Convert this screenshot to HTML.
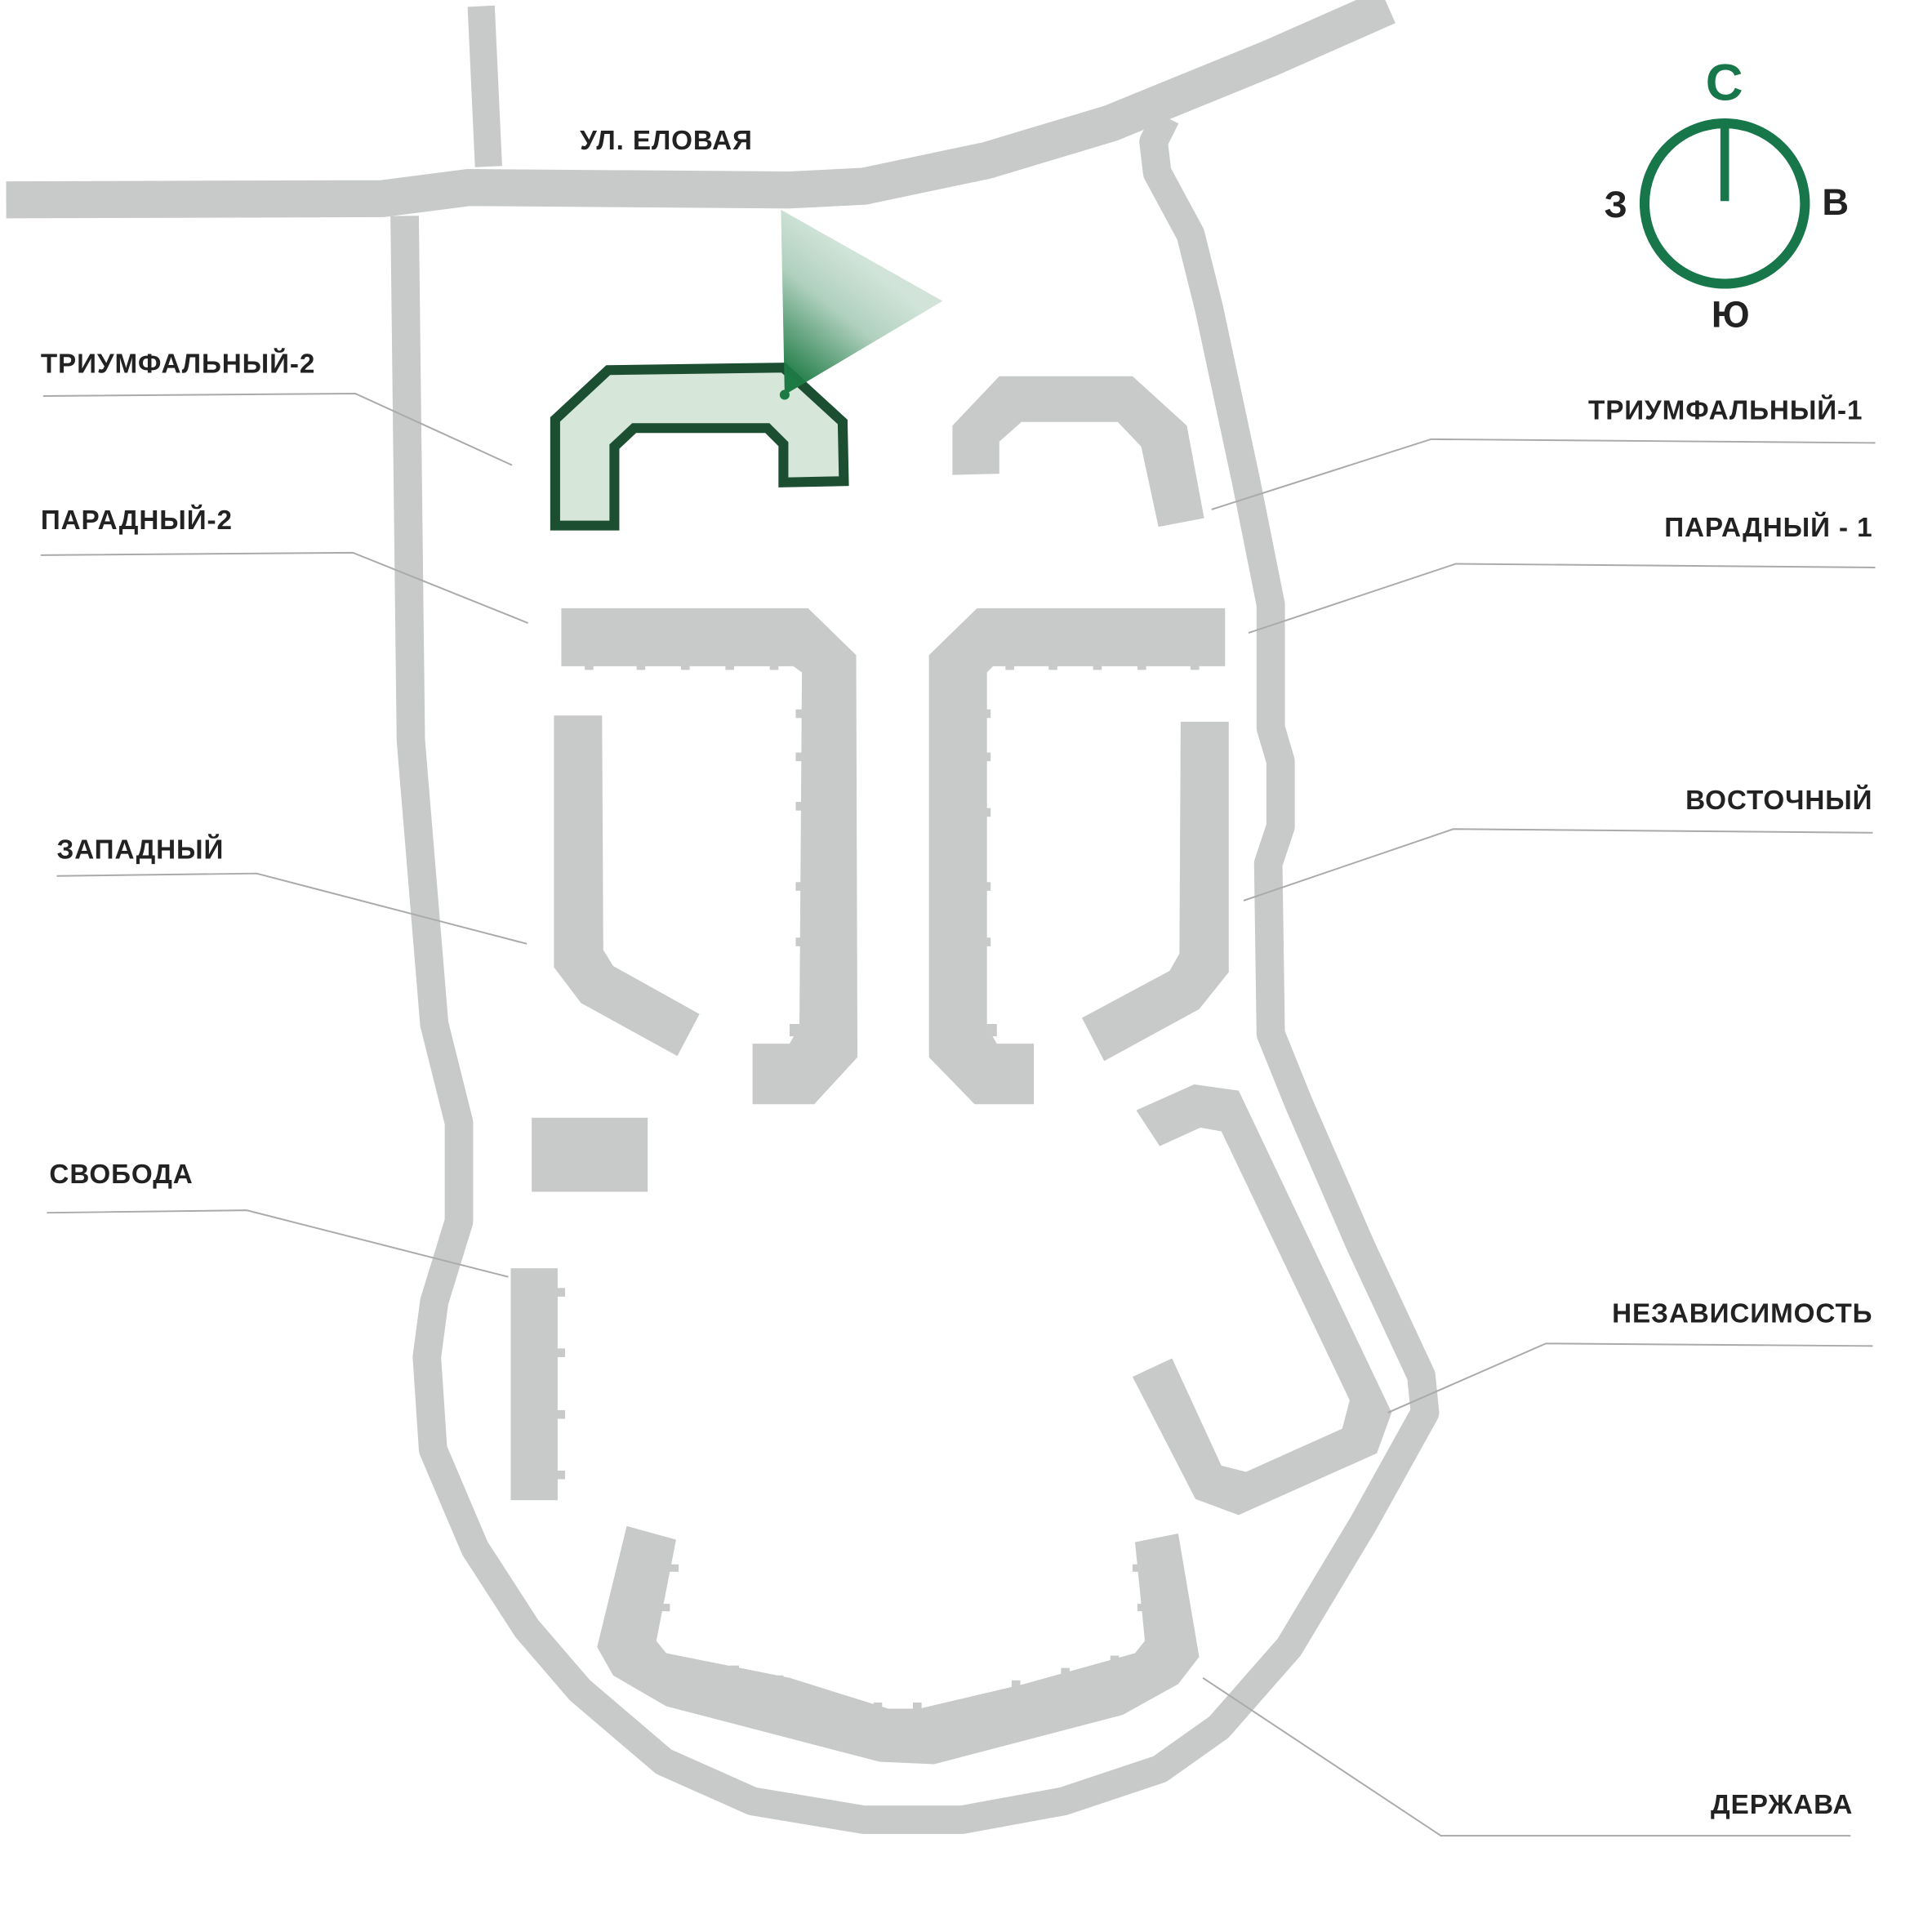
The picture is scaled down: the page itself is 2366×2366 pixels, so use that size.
<!DOCTYPE html>
<html><head><meta charset="utf-8"><style>
html,body{margin:0;padding:0;background:#fff}
svg{display:block}
text{font-family:"Liberation Sans",sans-serif;font-weight:bold;fill:#222;letter-spacing:0.6px}
</style></head><body>
<svg width="2366" height="2366" viewBox="0 0 1566 1566" xmlns="http://www.w3.org/2000/svg">
<defs>
<linearGradient id="g" x1="0.1" y1="0.95" x2="0.55" y2="0.3">
<stop offset="0" stop-color="#1d7a45"/><stop offset="0.6" stop-color="#1d7a45" stop-opacity="0.35"/><stop offset="1" stop-color="#1d7a45" stop-opacity="0.2"/>
</linearGradient>
</defs>
<g fill="none" stroke="#c8c9c9" stroke-linejoin="round" stroke-linecap="butt">
<path d="M5,162 L310,161 L380,152 L640,154 L700,151 L800,130 L900,100 L1030,47 L1125,5" stroke-width="30"/>
<path d="M390,5 L396,135" stroke-width="22"/>
<path d="M328,175 L333,600 L352,830 L372,910 L372,990 L352,1055 L346,1100 L351,1175 L385,1255 L427,1320 L470,1370 L538,1428 L610,1460 L700,1475 L780,1475 L862,1460 L940,1434 L988,1400 L1045,1335 L1105,1235 L1155,1145 L1152,1115 L1103,1010 L1053,895 L1030,838 L1028,700 L1038,670 L1038,617 L1030,590 L1030,490 L1010,390 L980,250 L965,190 L938,140 L935,115 L945,95" stroke-width="23"/>
</g>
<g fill="#c8c9c9">
<polygon points="772,345 810,305 918,305 962,345 976,420 939,427 925,362 906,342 828,342 810,358 810,384 772,385"/>
<polygon points="455,493 655,493 694,531 695,857 660,895 610,895 610,846 640,846 648,832 650,545 643,540 455,540"/>
<polygon points="993,493 792,493 753,531 753,857 790,895 838,895 838,846 808,846 800,832 800,545 805,540 993,540"/>
<g>
<rect x="474" y="538" width="7" height="5"/><rect x="516" y="538" width="7" height="5"/><rect x="552" y="538" width="7" height="5"/><rect x="588" y="538" width="7" height="5"/><rect x="624" y="538" width="7" height="5"/>
<rect x="645" y="575" width="6" height="7"/><rect x="645" y="610" width="6" height="7"/><rect x="645" y="650" width="6" height="7"/><rect x="645" y="715" width="6" height="7"/><rect x="645" y="760" width="6" height="7"/><rect x="640" y="830" width="8" height="10"/>
<rect x="815" y="538" width="7" height="5"/><rect x="850" y="538" width="7" height="5"/><rect x="886" y="538" width="7" height="5"/><rect x="922" y="538" width="7" height="5"/><rect x="965" y="538" width="7" height="5"/>
<rect x="797" y="575" width="6" height="7"/><rect x="797" y="610" width="6" height="7"/><rect x="797" y="655" width="6" height="7"/><rect x="797" y="715" width="6" height="7"/><rect x="797" y="760" width="6" height="7"/><rect x="800" y="830" width="8" height="10"/>
</g>
<polygon points="449,580 488,580 489,770 497,783 567,822 549,856 471,813 449,784"/>
<polygon points="957,585 996,585 996,788 972,818 895,860 877,825 948,787 956,773"/>
<rect x="431" y="906" width="94" height="60"/>
<rect x="414" y="1028" width="38" height="188"/>
<rect x="450" y="1044" width="8" height="7"/><rect x="450" y="1093" width="8" height="7"/><rect x="450" y="1143" width="8" height="7"/><rect x="450" y="1192" width="8" height="7"/>
<polygon points="921,900 968,879 1004,884 1128,1145 1116,1178 1004,1228 969,1215 918,1116 950,1101 990,1188 1010,1193 1088,1158 1094,1135 990,917 973,914 940,929"/>
<polygon points="508,1237 548,1248 532,1330 540,1340 640,1360 720,1385 745,1385 830,1365 920,1340 928,1330 920,1250 955,1243 972,1343 955,1365 910,1390 757,1430 713,1428 540,1383 497,1358 484,1335"/>
<rect x="543" y="1268" width="7" height="6"/><rect x="536" y="1300" width="7" height="6"/><rect x="592" y="1350" width="7" height="6"/><rect x="628" y="1358" width="7" height="6"/><rect x="708" y="1380" width="7" height="6"/><rect x="740" y="1380" width="7" height="6"/><rect x="820" y="1362" width="7" height="6"/><rect x="860" y="1352" width="7" height="6"/><rect x="900" y="1342" width="7" height="6"/><rect x="918" y="1268" width="7" height="6"/><rect x="922" y="1300" width="7" height="6"/>
</g>
<polygon points="450,340 493,300 635,298 683,342 684,390 635,391 635,360 622,347 514,347 498,362 498,426 450,426" fill="#d6e6d9" stroke="#1c4f32" stroke-width="8" stroke-linejoin="miter"/>
<polygon points="636,320 633,170 764,244" fill="url(#g)"/>
<circle cx="636" cy="320" r="4" fill="#1d7a45"/>
<g fill="none" stroke="#aaa" stroke-width="1.3">
<polyline points="35,321 288,319 415,377"/>
<polyline points="33,450 286,448 428,505"/>
<polyline points="46,710 208,708 427,765"/>
<polyline points="38,983 200,981 412,1035"/>
<polyline points="1520,359 1160,356 982,413"/>
<polyline points="1520,460 1180,457 1012,513"/>
<polyline points="1518,675 1178,672 1008,730"/>
<polyline points="1518,1091 1253,1089 1125,1145"/>
<polyline points="1500,1488 1168,1488 975,1360"/>
</g>
<g font-size="22">
<text x="33" y="302">ТРИУМФАЛЬНЫЙ-2</text>
<text x="33" y="429">ПАРАДНЫЙ-2</text>
<text x="46" y="696">ЗАПАДНЫЙ</text>
<text x="40" y="959">СВОБОДА</text>
<text x="470" y="121">УЛ. ЕЛОВАЯ</text>
<g text-anchor="end">
<text x="1510" y="340">ТРИУМФАЛЬНЫЙ-1</text>
<text x="1518" y="435">ПАРАДНЫЙ - 1</text>
<text x="1518" y="656">ВОСТОЧНЫЙ</text>
<text x="1518" y="1072">НЕЗАВИСИМОСТЬ</text>
<text x="1502" y="1470">ДЕРЖАВА</text>
</g>
</g>
<circle cx="1398" cy="165" r="65" fill="none" stroke="#17764a" stroke-width="8"/>
<line x1="1398" y1="97" x2="1398" y2="163" stroke="#17764a" stroke-width="7"/>
<text x="1398" y="81" font-size="42" text-anchor="middle" style="fill:#17764a">С</text>
<text x="1310" y="176" font-size="30" text-anchor="middle">З</text>
<text x="1488" y="174" font-size="30" text-anchor="middle">В</text>
<text x="1403" y="265" font-size="30" text-anchor="middle">Ю</text>
</svg>
</body></html>
